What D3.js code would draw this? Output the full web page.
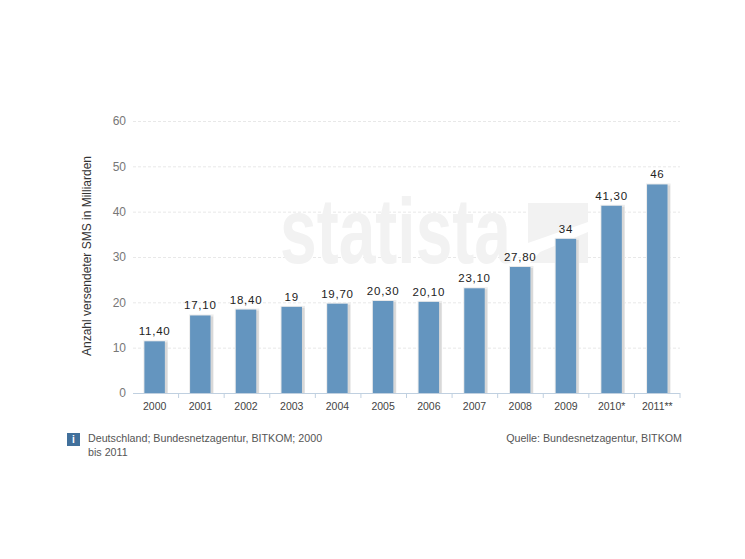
<!DOCTYPE html>
<html><head><meta charset="utf-8">
<style>html,body{margin:0;padding:0;background:#fff}svg{display:block}text{font-family:"Liberation Sans",Arial,sans-serif}</style>
<script src="https://cdn.jsdelivr.net/npm/d3@7"></script></head>
<body><script>
const categories=["2000","2001","2002","2003","2004","2005","2006","2007","2008","2009","2010*","2011**"];
const values=[11.4,17.1,18.4,19,19.7,20.3,20.1,23.1,27.8,34,41.3,46];
const valueLabels=["11,40","17,10","18,40","19","19,70","20,30","20,10","23,10","27,80","34","41,30","46"];
const yTicks=[0,10,20,30,40,50,60];
const yTitle="Anzahl versendeter SMS in Milliarden";
const noteLines=["Deutschland; Bundesnetzagentur, BITKOM; 2000","bis 2011"];
const source="Quelle: Bundesnetzagentur, BITKOM";

const svg=d3.select("body").append("svg").attr("width",745).attr("height",559);
const x=d3.scaleBand().domain(categories).range([132.5,679.5]).paddingInner(0.55).paddingOuter(0.26);
const band=d3.scaleBand().domain(categories).range([133,680]);
const y=d3.scaleLinear().domain([0,60]).range([393,121]);

// gridlines
svg.append("g").selectAll("line").data(yTicks.filter(d=>d>0)).join("line")
 .attr("x1",133).attr("x2",680).attr("y1",d=>y(d)+.5).attr("y2",d=>y(d)+.5)
 .attr("stroke","#e8e8e8").attr("stroke-dasharray","3,2");

// watermark
const wm=svg.append("g");
wm.append("text").attr("x",280).attr("y",263).attr("font-size",92).attr("font-weight",700)
 .attr("textLength",231).attr("lengthAdjust","spacingAndGlyphs").attr("fill","#f2f2f2").text("statista");
wm.append("path").attr("d","M528 203H588V222L528 243ZM588 232V263H530L540 252Z").attr("fill","#f2f2f2");

// shadows and bars
const bw=20.5, bx=d=>x(d);
svg.append("g").selectAll("rect").data(categories).join("rect")
 .attr("x",d=>bx(d)-1).attr("width",bw+4).attr("y",(d,i)=>y(values[i])-1).attr("height",(d,i)=>393-y(values[i])+1)
 .attr("fill","#ececec");
svg.append("g").selectAll("rect").data(categories).join("rect")
 .attr("x",d=>bx(d)+bw).attr("width",2.5).attr("y",(d,i)=>y(values[i])+1).attr("height",(d,i)=>393-y(values[i])-1)
 .attr("fill","#d8d8d8");
svg.append("g").selectAll("rect").data(categories).join("rect")
 .attr("x",d=>bx(d)).attr("width",bw).attr("y",(d,i)=>y(values[i])).attr("height",(d,i)=>393-y(values[i]))
 .attr("fill","#6495bf");

// value labels
svg.append("g").selectAll("text").data(categories).join("text")
 .attr("x",d=>bx(d)+bw/2).attr("y",(d,i)=>y(values[i])-6).attr("text-anchor","middle")
 .attr("font-size",11.5).attr("letter-spacing",.75).attr("fill","#222").text((d,i)=>valueLabels[i]);

// x axis
const axisX=svg.append("g").attr("transform","translate(0,393)")
 .call(d3.axisBottom(band).tickSize(0).tickPadding(10));
axisX.select(".domain").attr("stroke","#c0d0e0").attr("d","M133,0.5H680");
axisX.selectAll("text").attr("x",(d)=>bx(d)+bw/2-band(d)-band.bandwidth()/2)
 .attr("font-size",10.5).attr("font-family","Liberation Sans").attr("fill","#444");
axisX.selectAll("line.sep").data(categories.slice(0)).join("line").attr("class","sep")
 .attr("x1",d=>band(d)+band.bandwidth()).attr("x2",d=>band(d)+band.bandwidth())
 .attr("y1",0).attr("y2",5).attr("stroke","#c0d0e0");

// y axis
const axisY=svg.append("g").attr("transform","translate(133,0)")
 .call(d3.axisLeft(y).tickValues(yTicks).tickSize(0).tickPadding(7));
axisY.select(".domain").remove();
axisY.selectAll("text").attr("font-size",12).attr("font-family","Liberation Sans").attr("fill","#777");

// axis title
svg.append("text").attr("transform","translate(90.5,256) rotate(-90)").attr("text-anchor","middle")
 .attr("font-size",12).attr("fill","#333").text(yTitle);

// info note
svg.append("rect").attr("x",67).attr("y",433).attr("width",13).attr("height",13).attr("fill","#41709b");
svg.append("text").attr("x",73.5).attr("y",443).attr("text-anchor","middle").attr("font-size",10).attr("font-weight",700).attr("fill","#fff").text("i");
svg.append("g").selectAll("text").data(noteLines).join("text")
 .attr("x",88).attr("y",(d,i)=>442+i*13.5).attr("font-size",10.7).attr("fill","#555").text(d=>d);
svg.append("text").attr("x",682).attr("y",442).attr("text-anchor","end").attr("font-size",10.7).attr("fill","#555").text(source);
</script></body></html>
